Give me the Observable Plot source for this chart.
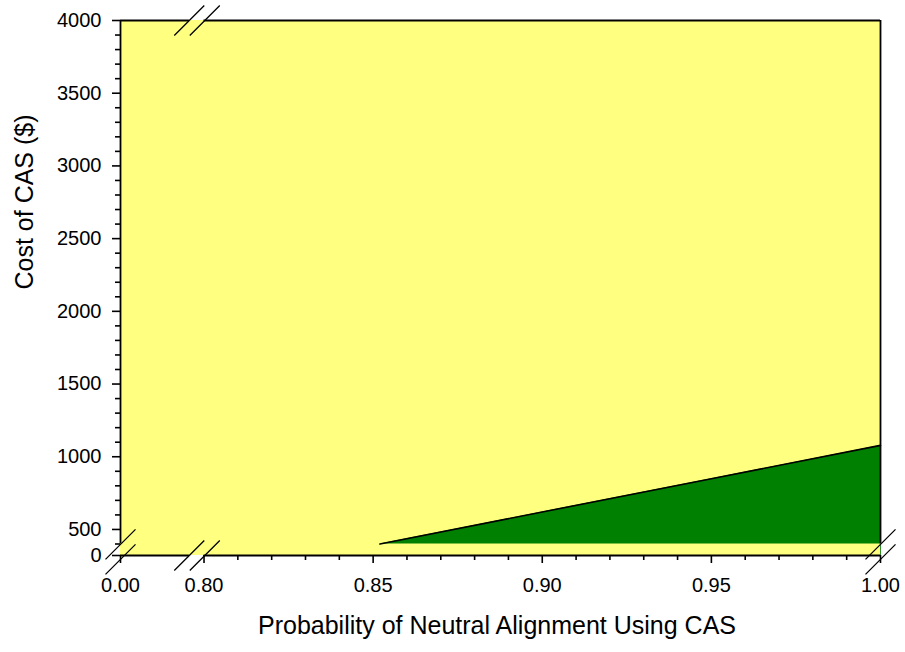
<!DOCTYPE html>
<html><head><meta charset="utf-8">
<script src="https://cdn.jsdelivr.net/npm/d3@7"></script>
<script src="https://cdn.jsdelivr.net/npm/@observablehq/plot@0.6"></script>
<style>
html,body{margin:0;padding:0;background:#fff;}
#chart svg g[aria-label$="tick label"], #chart svg g[aria-label$="tick label"] text { font-size: 20px !important; }
</style>
</head><body><div id="chart"></div>
<script>
// ---- data ----
const xMajorTicks = [0.00, 0.80, 0.85, 0.90, 0.95, 1.00];
const xMinorTicks = [0.81,0.82,0.83,0.84,0.86,0.87,0.88,0.89,0.91,0.92,0.93,0.94,0.96,0.97,0.98,0.99];
const yMajorTicks = [0, 500, 1000, 1500, 2000, 2500, 3000, 3500, 4000];
const yMinorTicks = [400,600,700,800,900,1100,1200,1300,1400,1600,1700,1800,1900,2100,2200,2300,2400,2600,2700,2800,2900,3100,3200,3300,3400,3600,3700,3800,3900];
const probability = [0.852, 0.90, 0.95, 1.00];
const breakEvenCost = [400, 620, 849, 1078];
const regionFloor = 400;
// broken axes: segment boundaries and their share of the axis length
const xSegments = [0, 0.80, 1.00];
const xShares   = [0, 0.1099, 1];
const ySegments = [0, 400, 4000];
const yShares   = [0, 0.0215, 1];
const xGap = [0.66, 0.80];
const yGap = [0, 400];
const xBreakAt = 0.733;
const yBreakAt = 125;

const green = probability.map((p, i) => ({p, cost: breakEvenCost[i]}));

const brokenX = d3.scaleLinear(xSegments, xShares);
const brokenY = d3.scaleLinear(ySegments, yShares);

const slashX = {draw(ctx) { for (const o of [-7.75, 7.75]) { ctx.moveTo(o - 15, 15); ctx.lineTo(o + 15, -15); } }};
const slashY = {draw(ctx) { for (const o of [-7.5, 7.5]) { ctx.moveTo(-15, o + 15); ctx.lineTo(15, o - 15); } }};

const W = 905, H = 652, L = 120, R = 880, T = 20, B = 555;
const font = "Liberation Sans, Arial, Helvetica, sans-serif";
const fmtX = v => d3.format(".2f")(brokenX.invert(v));
const fmtY = v => String(Math.round(brokenY.invert(v)));

const chart = Plot.plot({
  width: W, height: H,
  marginLeft: L, marginRight: W - R, marginTop: T, marginBottom: H - B,
  style: {fontFamily: font, fontSize: "20px", color: "black", background: "white"},
  x: {type: "linear", transform: brokenX, domain: [0, 1]},
  y: {type: "linear", transform: brokenY, domain: [0, 1]},
  marks: [
    Plot.rect([{}], {x1: () => xSegments[0], x2: () => xSegments[2], y1: () => ySegments[0], y2: () => ySegments[2], fill: "#FFFF80"}),
    Plot.areaY(green, {x: "p", y1: () => regionFloor, y2: "cost", fill: "#008000"}),
    Plot.line(green, {x: "p", y: "cost", stroke: "black", strokeWidth: 1.6}),
    Plot.ruleX([xSegments[2]], {y1: yGap[0], y2: yGap[1], stroke: "#2e8b2e", strokeWidth: 1}),
    // frame pieces
    Plot.ruleY([ySegments[2]], {x1: xSegments[0], x2: xGap[0], stroke: "black", strokeWidth: 1.8}),
    Plot.ruleY([ySegments[2]], {x1: xGap[1], x2: xSegments[2], stroke: "black", strokeWidth: 1.8}),
    Plot.ruleY([ySegments[0]], {x1: xSegments[0], x2: xGap[0], stroke: "black", strokeWidth: 1.8}),
    Plot.ruleY([ySegments[0]], {x1: xGap[1], x2: xSegments[2], stroke: "black", strokeWidth: 1.8}),
    Plot.ruleX([xSegments[0]], {y1: yGap[1], y2: ySegments[2], stroke: "black", strokeWidth: 1.8}),
    Plot.ruleX([xSegments[2]], {y1: yGap[1], y2: ySegments[2], stroke: "black", strokeWidth: 1.8}),
    // axes (axis marks take ticks in the scale's transformed space)
    Plot.axisX({ticks: xMajorTicks.map(brokenX), tickSize: 8, tickPadding: 14, fontSize: 20, tickFormat: fmtX, label: null, strokeWidth: 1.6}),
    Plot.axisX({ticks: xMinorTicks.map(brokenX), tickSize: 5, tickFormat: () => "", label: null, strokeWidth: 1.6}),
    Plot.axisY({ticks: yMajorTicks.map(brokenY), tickSize: 8, tickPadding: 11, fontSize: 20, tickFormat: fmtY, label: null, strokeWidth: 1.6}),
    Plot.axisY({ticks: yMinorTicks.map(brokenY), tickSize: 5, tickFormat: () => "", label: null, strokeWidth: 1.6}),
    // break marks
    Plot.dot([{x: xBreakAt, y: ySegments[2]}, {x: xBreakAt, y: ySegments[0]}], {x: "x", y: "y", symbol: slashX, stroke: "black", fill: "none", strokeWidth: 1.3}),
    Plot.dot([{x: xSegments[0], y: yBreakAt}, {x: xSegments[2], y: yBreakAt}], {x: "x", y: "y", symbol: slashY, stroke: "black", fill: "none", strokeWidth: 1.3}),
    // titles
    Plot.text(["Probability of Neutral Alignment Using CAS"], {text: d => d, frameAnchor: "bottom", dy: 78, dx: -3.5, fontSize: 25, fill: "black"}),
    Plot.text(["Cost of CAS ($)"], {text: d => d, frameAnchor: "left", rotate: -90, dx: -96, dy: 1.5, fontSize: 25, fill: "black"})
  ]
});
document.getElementById("chart").appendChild(chart);
</script>
</body></html>
